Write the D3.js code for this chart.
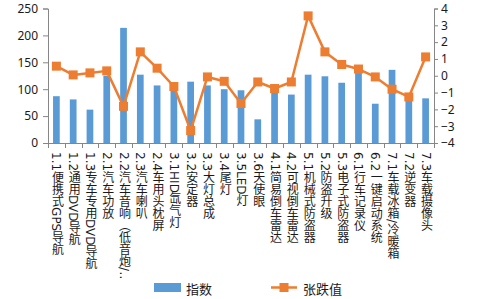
<!DOCTYPE html>
<html lang="zh">
  <head>
    <meta charset="UTF-8" />
    <title>指数 / 张跌值</title>
    <style>
      body {
        margin: 0;
        background: #fff;
      }
      svg text {
        font-family: "Noto Sans CJK SC", "Noto Sans", sans-serif;
        fill: #1a1a1a;
      }
    </style>
  </head>
  <body>
    <svg id="svg" width="496" height="299"></svg>
    <script src="https://cdn.jsdelivr.net/npm/d3@7"></script>
    <script>
      // data
      const categories = [
        "1.1便携式GPS导航",
        "1.2通用DVD导航",
        "1.3专车专用DVD导航",
        "2.1汽车功放",
        "2.2汽车音响（低音炮/…",
        "2.3汽车喇叭",
        "2.4车用头枕屏",
        "3.1HID氙气灯",
        "3.2安定器",
        "3.3大灯总成",
        "3.4尾灯",
        "3.5LED灯",
        "3.6天使眼",
        "4.1简易倒车雷达",
        "4.2可视倒车雷达",
        "5.1机械式防盗器",
        "5.2防盗升级",
        "5.3电子式防盗器",
        "6.1行车记录仪",
        "6.2一键启动系统",
        "7.1车载冰箱/冷暖箱",
        "7.2逆变器",
        "7.3车载摄像头",
      ];
      const indexValues = [
        87, 81, 62, 125, 214, 127, 107, 101, 114, 107, 100, 98, 44, 95, 90,
        127, 124, 112, 130, 73, 136, 85, 83,
      ];
      const changeValues = [
        0.57, 0.05, 0.17, 0.29, -1.82, 1.42, 0.45, -0.64, -3.26, -0.07, -0.33,
        -1.65, -0.37, -0.76, -0.37, 3.56, 1.42, 0.67, 0.4, -0.07, -0.8, -1.26,
        1.12,
      ];
      const leftTicks = [0, 50, 100, 150, 200, 250];
      const rightTicks = [-4, -3, -2, -1, 0, 1, 2, 3, 4];
      const seriesNames = ["指数", "张跌值"];

      // layout
      const LEFT = 48;
      const RIGHT = 434;
      const TOP = 8.5;
      const BOTTOM = 143;
      const BAR_COLOR = "#5B9BD5";
      const LINE_COLOR = "#ED7D31";
      const AXIS_COLOR = "#868686";

      const svg = d3.select("#svg");

      const x = d3.scaleBand().domain(categories).range([LEFT, RIGHT]);
      const yLeft = d3.scaleLinear().domain([0, 250]).range([BOTTOM, TOP]);
      const yRight = d3.scaleLinear().domain([-4, 4]).range([BOTTOM, TOP]);

      const barW = x.bandwidth() * 0.4;

      // bars
      svg
        .append("g")
        .selectAll("rect")
        .data(indexValues)
        .enter()
        .append("rect")
        .attr("x", (d, i) => x(categories[i]) + (x.bandwidth() - barW) / 2)
        .attr("y", (d) => yLeft(d))
        .attr("width", barW)
        .attr("height", (d) => BOTTOM - yLeft(d))
        .attr("fill", BAR_COLOR);

      // left axis
      const leftAxis = svg
        .append("g")
        .attr("transform", `translate(${LEFT},0)`)
        .call(d3.axisLeft(yLeft).tickValues(leftTicks).tickSize(5).tickPadding(5));

      // right axis
      const rightAxis = svg
        .append("g")
        .attr("transform", `translate(${RIGHT},0)`)
        .call(
          d3.axisRight(yRight).tickValues(rightTicks).tickSize(4).tickPadding(3)
        );

      // bottom axis: ticks on category boundaries
      const bottom = svg.append("g");
      bottom
        .append("line")
        .attr("x1", LEFT)
        .attr("x2", RIGHT)
        .attr("y1", BOTTOM + 0.5)
        .attr("y2", BOTTOM + 0.5)
        .attr("stroke", AXIS_COLOR);
      bottom
        .selectAll("line.tk")
        .data(categories.concat([null]))
        .enter()
        .append("line")
        .attr("class", "tk")
        .attr("x1", (d, i) => Math.round(LEFT + i * x.step()) + 0.5)
        .attr("x2", (d, i) => Math.round(LEFT + i * x.step()) + 0.5)
        .attr("y1", BOTTOM)
        .attr("y2", BOTTOM + 5)
        .attr("stroke", AXIS_COLOR);

      [leftAxis, rightAxis].forEach((ax) => {
        ax.select(".domain").attr("stroke", AXIS_COLOR);
        ax.selectAll(".tick line").attr("stroke", AXIS_COLOR);
        ax.selectAll(".tick text")
          .style("font-size", "12px")
          .style("font-family", "'Noto Sans', sans-serif")
          .attr("fill", "#1a1a1a");
      });

      // category labels (vertical text, clipped above the legend)
      svg
        .append("clipPath")
        .attr("id", "labclip")
        .append("rect")
        .attr("x", 0)
        .attr("y", BOTTOM)
        .attr("width", 496)
        .attr("height", 279 - BOTTOM);

      svg
        .append("g")
        .attr("clip-path", "url(#labclip)")
        .selectAll("text")
        .data(categories)
        .enter()
        .append("text")
        .text((d) => d)
        .attr("x", (d) => x(d) + x.bandwidth() / 2)
        .attr("y", BOTTOM + 9)
        .style("writing-mode", "vertical-rl")
        .style("text-orientation", "mixed")
        .style("font-family", "'DejaVu Sans', 'Noto Sans CJK SC', sans-serif")
        .style("font-size", "12px")
        .attr("dominant-baseline", "central");

      // line
      const lineGen = d3
        .line()
        .x((d, i) => x(categories[i]) + x.bandwidth() / 2)
        .y((d) => yRight(d));

      svg
        .append("path")
        .datum(changeValues)
        .attr("d", lineGen)
        .attr("fill", "none")
        .attr("stroke", LINE_COLOR)
        .attr("stroke-width", 2.5)
        .attr("stroke-linejoin", "round");

      const MK = 9;
      svg
        .append("g")
        .selectAll("rect")
        .data(changeValues)
        .enter()
        .append("rect")
        .attr("x", (d, i) => x(categories[i]) + x.bandwidth() / 2 - MK / 2)
        .attr("y", (d) => yRight(d) - MK / 2)
        .attr("width", MK)
        .attr("height", MK)
        .attr("fill", LINE_COLOR);

      // legend
      const legend = svg.append("g");
      legend
        .append("rect")
        .attr("x", 154)
        .attr("y", 283)
        .attr("width", 27)
        .attr("height", 9)
        .attr("fill", BAR_COLOR);
      legend
        .append("text")
        .text(seriesNames[0])
        .attr("x", 186)
        .attr("y", 288)
        .attr("dominant-baseline", "central")
        .style("font-size", "13px");
      legend
        .append("line")
        .attr("x1", 271)
        .attr("x2", 297)
        .attr("y1", 287.5)
        .attr("y2", 287.5)
        .attr("stroke", LINE_COLOR)
        .attr("stroke-width", 2.5);
      legend
        .append("rect")
        .attr("x", 284 - MK / 2)
        .attr("y", 287.5 - MK / 2)
        .attr("width", MK)
        .attr("height", MK)
        .attr("fill", LINE_COLOR);
      legend
        .append("text")
        .text(seriesNames[1])
        .attr("x", 303)
        .attr("y", 288)
        .attr("dominant-baseline", "central")
        .style("font-size", "13px");
    </script>
  </body>
</html>
